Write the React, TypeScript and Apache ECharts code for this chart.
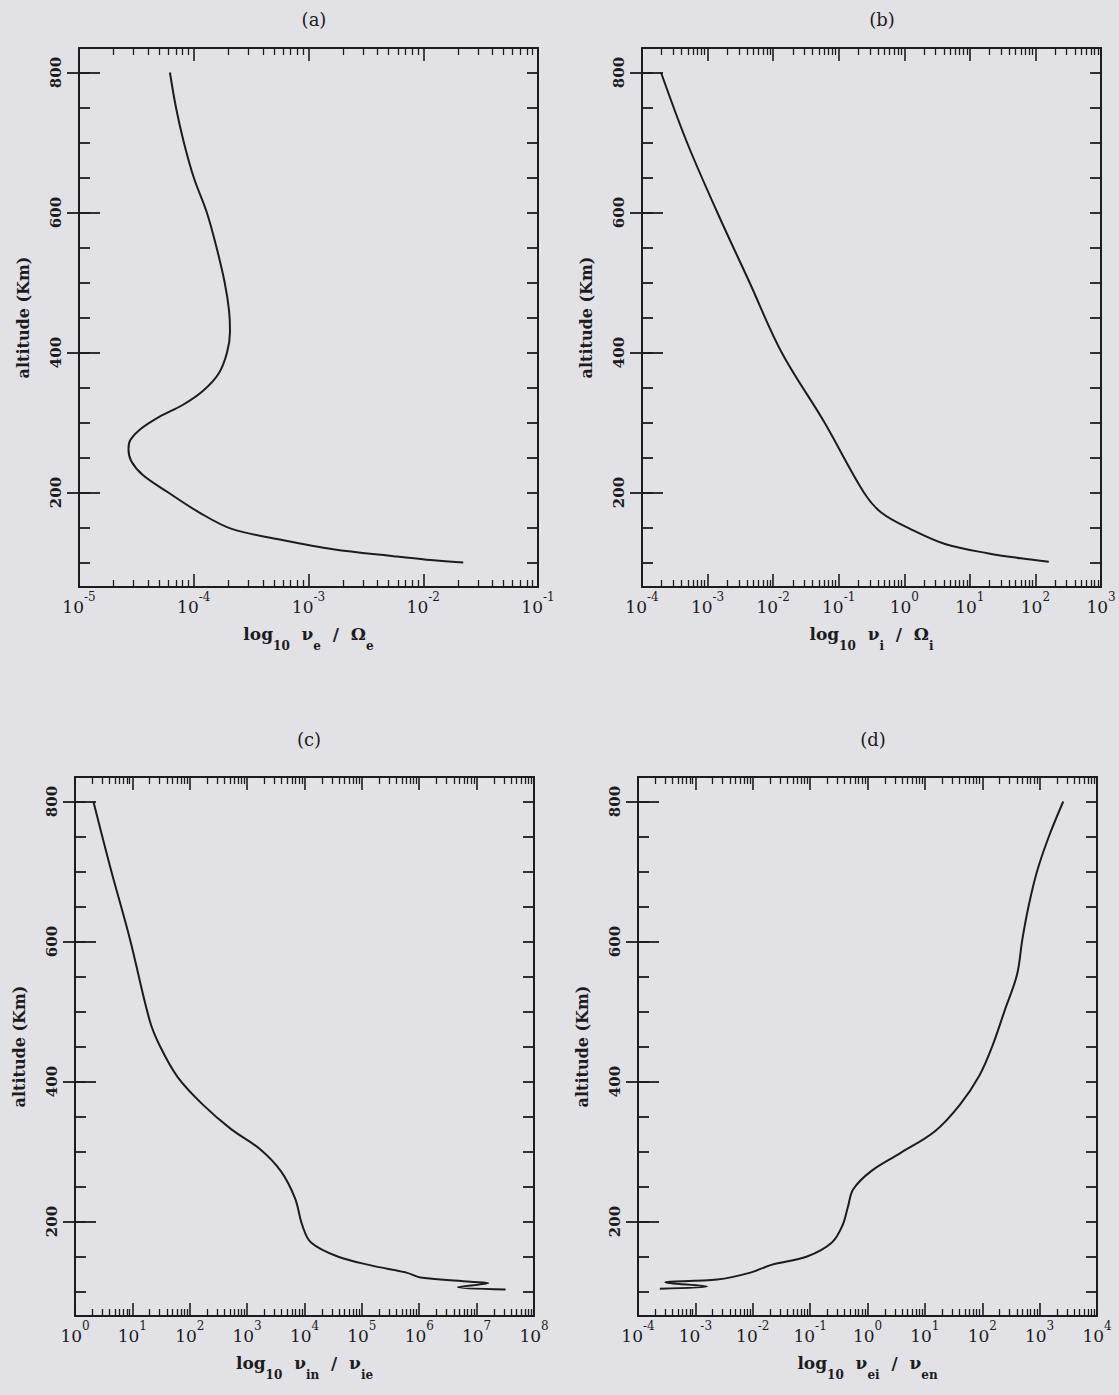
import React, { useEffect, useRef } from 'react';
import * as echarts from 'echarts';

// ---------- data ----------
// altitude ticks
const altTicks = [100, 150, 200, 250, 300, 350, 400, 450, 500, 550, 600, 650, 700, 750, 800];
const altLabels = [200, 400, 600, 800];

// (a) nu_e / Omega_e
const aRatio = [6.2e-5, 7.0e-5, 8.2e-5, 1.0e-4, 1.3e-4, 1.58e-4, 1.86e-4, 2.03e-4, 2.07e-4, 1.95e-4, 1.65e-4, 1.2e-4, 8.0e-5, 5.0e-5, 3.4e-5, 2.8e-5, 2.7e-5, 2.85e-5, 3.6e-5, 6.0e-5, 1.13e-4, 2.14e-4, 5.6e-4, 1.64e-3, 5.5e-3, 1.07e-2, 2.23e-2];
const aAlt = [800, 750, 700, 650, 600, 550, 500, 460, 430, 400, 370, 345, 325, 308, 290, 275, 262, 245, 225, 200, 171, 148, 133, 119, 109, 104, 100];

// (b) nu_i / Omega_i
const bRatio = [1.95e-4, 4.86e-4, 1.41e-3, 4.37e-3, 1.35e-2, 6.07e-2, 0.242, 0.45, 1.23, 4.3, 19.4, 60, 160];
const bAlt = [800, 700, 600, 500, 400, 300, 200, 171, 148, 126, 113, 106, 101];

// (c) nu_in / nu_ie
const cRatio = [2.09, 4.15, 9.1, 19.9, 30.5, 62, 169, 525, 1648, 3873, 6850, 9120, 13000, 37800, 1.5e5, 6.0e5, 1.05e6, 7.8e6, 1.6e7, 4.7e6, 3.2e7];
const cAlt = [800, 705, 603, 488, 450, 406, 367, 332, 304, 272, 233, 195, 170, 150, 137, 127, 120, 114, 112, 106, 103];

// (d) nu_ei / nu_en
const dRatio = [2580, 1450, 900, 640, 500, 402, 245, 149, 89.8, 40.9, 15, 3.61, 1.16, 0.564, 0.456, 0.369, 0.24, 0.0883, 0.0211, 9.1e-3, 2.4e-3, 3.0e-4, 1.6e-3, 2.4e-4];
const dAlt = [800, 750, 700, 650, 603, 552, 501, 450, 409, 367, 329, 297, 272, 246, 221, 195, 170, 150, 138, 127, 117, 113, 107, 104];

const panelTitles = ['(a)', '(b)', '(c)', '(d)'];
const xNames = [
  '{n|log}{s|10}{n|  ν}{s|e}{n|  /  Ω}{s|e}',
  '{n|log}{s|10}{n|  ν}{s|i}{n|  /  Ω}{s|i}',
  '{n|log}{s|10}{n|  ν}{s|in}{n|  /  ν}{s|ie}',
  '{n|log}{s|10}{n|  ν}{s|ei}{n|  /  ν}{s|en}',
];
const xExpRanges = [[-5, -1], [-4, 3], [0, 8], [-4, 4]];
const ratios = [aRatio, bRatio, cRatio, dRatio];
const alts = [aAlt, bAlt, cAlt, dAlt];

// ---------- layout / style ----------
const layout = [
  { left: 79, top: 48, titleX: 309 },
  { left: 642, top: 48, titleX: 877 },
  { left: 75, top: 777, titleX: 304 },
  { left: 638, top: 777, titleX: 868 },
];
const W = 459;
const H = 539;
const FONT = '"DejaVu Serif", "Liberation Serif", serif';
const INK = '#1c1c1e';
const BG = '#e2e2e6';

function supLabel(v: number) {
  const e = Math.round(Math.log10(v));
  return `{b|10}{s|${e}}`;
}

function buildOption() {
  const grid: any[] = [];
  const xAxis: any[] = [];
  const yAxis: any[] = [];
  const series: any[] = [];
  const title: any[] = [];

  layout.forEach((p, g) => {
    grid.push({ left: p.left, top: p.top, width: W, height: H });
    title.push({
      text: panelTitles[g],
      left: p.titleX,
      top: g < 2 ? 5 : 725,
      textAlign: 'center',
      textStyle: { fontFamily: FONT, fontSize: 18, fontWeight: 'normal', color: INK },
    });
    const [e0, e1] = xExpRanges[g];
    const majors: number[] = [];
    const minors: number[] = [];
    for (let e = e0; e <= e1; e++) majors.push(Number('1e' + e));
    for (let e = e0; e < e1; e++) {
      for (let k = 2; k <= 9; k++) minors.push(Number(k + 'e' + e));
    }
    const xBase = {
      type: 'log',
      logBase: 10,
      min: Number('1e' + e0),
      max: Number('1e' + e1),
      gridIndex: g,
      splitLine: { show: false },
      minorTick: { show: false },
      minorSplitLine: { show: false },
    };
    const lineOn = { show: true, onZero: false, lineStyle: { color: INK, width: 2 } };
    const xi = xAxis.length;
    xAxis.push({
      ...xBase,
      position: 'bottom',
      axisLine: lineOn,
      axisTick: { show: true, inside: true, length: 13, customValues: majors, lineStyle: { color: INK, width: 1.6 } },
      axisLabel: {
        show: true,
        customValues: majors,
        formatter: supLabel,
        margin: 4,
        rich: {
          b: { fontFamily: FONT, fontSize: 17, color: INK, verticalAlign: 'bottom', lineHeight: 24 },
          s: { fontFamily: FONT, fontSize: 12, color: INK, verticalAlign: 'top', lineHeight: 24 },
        },
      },
      name: xNames[g],
      nameLocation: 'middle',
      nameGap: 38,
      nameTextStyle: {
        rich: {
          n: { fontFamily: FONT, fontSize: 17, fontWeight: 'bold', color: INK, verticalAlign: 'top', lineHeight: 27 },
          s: { fontFamily: FONT, fontSize: 12, fontWeight: 'bold', color: INK, verticalAlign: 'bottom', lineHeight: 27 },
        },
      },
    });
    xAxis.push({
      ...xBase,
      position: 'bottom',
      axisLine: { show: false },
      axisTick: { show: true, inside: true, length: 7, customValues: minors, lineStyle: { color: INK, width: 1.3 } },
      axisLabel: { show: false },
    });
    xAxis.push({
      ...xBase,
      position: 'top',
      axisLine: lineOn,
      axisTick: { show: true, inside: true, length: 13, customValues: majors, lineStyle: { color: INK, width: 1.6 } },
      axisLabel: { show: false },
    });
    xAxis.push({
      ...xBase,
      position: 'top',
      axisLine: { show: false },
      axisTick: { show: true, inside: true, length: 7, customValues: minors, lineStyle: { color: INK, width: 1.3 } },
      axisLabel: { show: false },
    });

    const yBase = {
      type: 'value',
      min: 65,
      max: 835,
      gridIndex: g,
      splitLine: { show: false },
    };
    const yi = yAxis.length;
    yAxis.push({
      ...yBase,
      position: 'left',
      axisLine: lineOn,
      axisTick: { show: true, inside: true, length: 11, customValues: altTicks, lineStyle: { color: INK, width: 1.8 } },
      axisLabel: {
        show: true,
        customValues: altLabels,
        rotate: 90,
        margin: 16,
        fontFamily: FONT,
        fontSize: 15,
        fontWeight: 'bold',
        color: INK,
      },
      name: 'altitude (Km)',
      nameLocation: 'middle',
      nameRotate: 90,
      nameGap: 48,
      nameTextStyle: { fontFamily: FONT, fontSize: 16, fontWeight: 'bold', color: INK },
    });
    yAxis.push({
      ...yBase,
      position: 'left',
      axisLine: { show: false },
      axisTick: { show: true, inside: true, length: 21, customValues: altLabels, lineStyle: { color: INK, width: 1.8 } },
      axisLabel: { show: false },
    });
    yAxis.push({
      ...yBase,
      position: 'left',
      axisLine: { show: false },
      axisTick: { show: true, inside: false, length: 12, customValues: altLabels, lineStyle: { color: INK, width: 1.8 } },
      axisLabel: { show: false },
    });
    yAxis.push({
      ...yBase,
      position: 'right',
      axisLine: lineOn,
      axisTick: { show: true, inside: true, length: 11, customValues: altTicks, lineStyle: { color: INK, width: 1.8 } },
      axisLabel: { show: false },
    });

    const xs = ratios[g];
    const ys = alts[g];
    series.push({
      type: 'line',
      xAxisIndex: xi,
      yAxisIndex: yi,
      data: xs.map((v, i) => [v, ys[i]]),
      showSymbol: false,
      smooth: 0.35,
      silent: true,
      lineStyle: { color: INK, width: 2 },
    });
  });

  return {
    animation: false,
    backgroundColor: BG,
    title,
    grid,
    xAxis,
    yAxis,
    series,
  };
}

export default function App() {
  const ref = useRef<HTMLDivElement>(null);
  useEffect(() => {
    document.body.style.margin = '0';
    document.body.style.background = BG;
    const chart = echarts.init(ref.current!, undefined, { renderer: 'svg' });
    chart.setOption(buildOption() as any);
    return () => chart.dispose();
  }, []);
  return (
    <div
      ref={ref}
      style={{ position: 'fixed', left: 0, top: 0, width: 1119, height: 1395, background: BG }}
    />
  );
}
